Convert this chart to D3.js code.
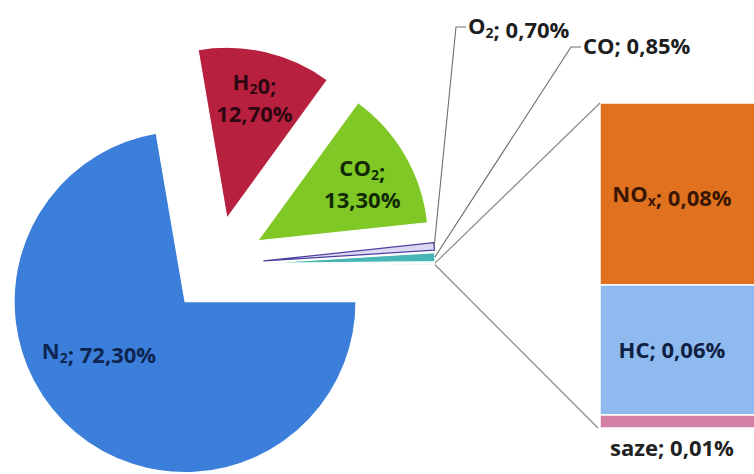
<!DOCTYPE html>
<html>
<head>
<meta charset="utf-8">
<script src="https://cdn.jsdelivr.net/npm/d3@7"></script>
<style>
  html, body { margin: 0; padding: 0; background: #fff; }
  svg { display: block; }
  text { font-family: "Open Sans", "Lato", sans-serif; font-weight: 700; }
</style>
</head>
<body>
<svg id="chart" width="754" height="474"></svg>
<script>
// ---------- data ----------
const pieNames  = ["N_2", "H_20", "CO_2", "O_2", "CO"];
const pieValues = [72.3, 12.7, 13.3, 0.7, 0.85];
const pieColors = ["#3b7fda", "#b8203f", "#7fc825", "#dcd8f2", "#45b5b5"];
const otherColor = "#a9c6dc";

const barNames  = ["NO_x", "HC", "saze"];
const barValues = [0.084, 0.06, 0.006];
const barColors = ["#e0721f", "#8ebaef", "#d27fa3"];

// ---------- setup ----------
const W = 754, H = 474;
const svg = d3.select("#chart");
const loc = d3.formatLocale({decimal: ",", thousands: " ", grouping: [3], currency: ["", ""]});
const fmt = v => loc.format(".2f")(v) + "%";

// write "X_2" style names with a subscript tspan
function addRich(sel, str, size) {
  const sh = Math.round(size * 0.2);
  for (let i = 0; i < str.length; i++) {
    if (str[i] === "_" && i + 1 < str.length) {
      sel.append("tspan").attr("font-size", Math.round(size * 0.62)).attr("dy", sh).text(str[i + 1]);
      sel.append("tspan").attr("dy", -sh).text("");
      i++;
    } else {
      sel.append("tspan").text(str[i]);
    }
  }
}

const otherTotal = d3.sum(barValues);
const pieData = pieNames.map((n, i) => ({name: n, v: pieValues[i], color: pieColors[i]}));
pieData.push({name: "other", v: otherTotal, color: otherColor});

const cx = 216, cy = 265, R = 171, explode = 48;
const pie = d3.pie().sort(null).value(d => d.v)
  .startAngle(Math.PI / 2).endAngle(Math.PI / 2 + 2 * Math.PI);
const arcs = pie(pieData);
const arc = d3.arc().innerRadius(0).outerRadius(R);

const pol = (a, r) => [r * Math.sin(a), -r * Math.cos(a)];
arcs.forEach(d => {
  const mid = (d.startAngle + d.endAngle) / 2;
  const o = pol(mid, explode);
  d.ox = cx + o[0]; d.oy = cy + o[1]; d.mid = mid;
});

const gPie = svg.append("g");
gPie.selectAll("path").data(arcs).join("path")
  .attr("transform", d => `translate(${d.ox},${d.oy})`)
  .attr("d", arc)
  .attr("fill", d => d.data.color)
  .attr("stroke", (d, i) => i === 3 ? "#4a3fa0" : "#ffffff")
  .attr("stroke-width", 1.2)
  .attr("stroke-linejoin", "round");

// ---------- bar ----------
const barX0 = 600, barX1 = 756, barTop = 103, barH = 325;
const yScale = d3.scaleLinear().domain([0, otherTotal]).range([0, barH]);
let acc = 0;
const barData = barNames.map((n, i) => {
  const d = {name: n, v: barValues[i], color: barColors[i], y0: acc};
  acc += barValues[i];
  d.y1 = acc;
  return d;
});
const gBar = svg.append("g");
gBar.selectAll("rect").data(barData).join("rect")
  .attr("x", barX0)
  .attr("y", d => barTop + yScale(d.y0))
  .attr("width", barX1 - barX0)
  .attr("height", d => yScale(d.y1) - yScale(d.y0))
  .attr("fill", d => d.color)
  .attr("stroke", "#ffffff")
  .attr("stroke-width", 1.5);

// ---------- connector lines ----------
const oth = arcs[arcs.length - 1];
const pA = pol(oth.startAngle, R), pB = pol(oth.endAngle, R);
svg.append("line")
  .attr("x1", oth.ox + pA[0]).attr("y1", oth.oy + pA[1])
  .attr("x2", barX0).attr("y2", barTop)
  .attr("stroke", "#8a8a8a").attr("stroke-width", 1.2);
svg.append("line")
  .attr("x1", oth.ox + pB[0]).attr("y1", oth.oy + pB[1])
  .attr("x2", barX0 - 2).attr("y2", barTop + yScale(otherTotal))
  .attr("stroke", "#8a8a8a").attr("stroke-width", 1.2);

// ---------- pie labels ----------
const fs = 22;
const labelR = 121;
const txtColors = ["#0e2550", "#2e0710", "#132a06"];
const inside = [{i: 1, dy: 0}, {i: 2, dy: 6}]; // H2O, CO2 two-line labels
inside.forEach(L => {
  const d = arcs[L.i];
  const p = pol(d.mid, labelR);
  const x = d.ox + p[0], y = d.oy + p[1] + L.dy;
  const t = svg.append("text").attr("x", x).attr("y", y - 10).attr("text-anchor", "middle")
    .attr("font-size", fs).attr("fill", txtColors[L.i]);
  addRich(t, d.data.name + ";", fs);
  t.append("tspan").attr("x", x).attr("y", y + 22).text(fmt(d.data.v));
});
// N2 label
{
  const d = arcs[0];
  const t = svg.append("text").attr("x", 99).attr("y", 359).attr("text-anchor", "middle")
    .attr("font-size", fs).attr("fill", txtColors[0]);
  addRich(t, d.data.name + "; " + fmt(d.data.v), fs);
}
// outside labels with leaders (O2, CO)
const outLabels = [{i: 3, x: 468, y: 34}, {i: 4, x: 583, y: 54}];
outLabels.forEach(L => {
  const d = arcs[L.i];
  const p = pol(d.mid, R);
  svg.append("polyline")
    .attr("points", [[d.ox + p[0], d.oy + p[1]], [L.x - 12, L.y - 7], [L.x - 2, L.y - 7]].map(q => q.join(",")).join(" "))
    .attr("fill", "none").attr("stroke", "#6e6e6e").attr("stroke-width", 1.1);
  const t = svg.append("text").attr("x", L.x).attr("y", L.y).attr("font-size", fs).attr("fill", "#1e1e1e");
  addRich(t, d.data.name + "; " + fmt(d.data.v), fs);
});

// ---------- bar labels ----------
const barLabelX = 672;
const barTxt = ["#3a1604", "#0f2142", "#222222"];
barData.forEach((d, i) => {
  const outside = i === 2;
  const y = outside ? barTop + barH + 28 : barTop + yScale((d.y0 + d.y1) / 2) + 8;
  const t = svg.append("text").attr("x", barLabelX).attr("y", y).attr("text-anchor", "middle")
    .attr("font-size", fs).attr("fill", barTxt[i]);
  addRich(t, d.name + "; " + fmt(d.v), fs);
});
</script>
</body>
</html>
